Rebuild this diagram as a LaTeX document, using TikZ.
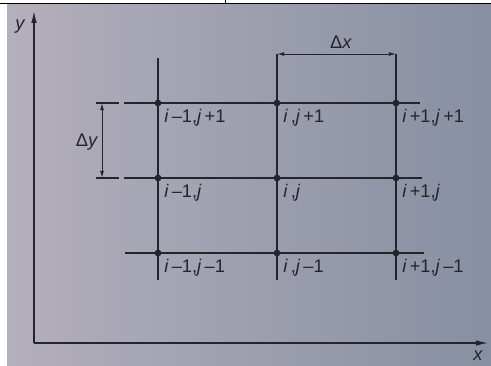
\documentclass[tikz,border=0pt]{standalone}
\usepackage{fontspec}
\setmainfont{Liberation Sans}
\usetikzlibrary{arrows.meta}

\definecolor{ink}{RGB}{36,36,44}
\definecolor{paperL}{RGB}{180,175,187}
\definecolor{paperR}{RGB}{135,143,162}

\newcommand\gridlab[2]{\textit{i}\,#1,\textit{j}\,#2}

\begin{document}
\begin{tikzpicture}[x=0.025cm,y=-0.025cm,
  gridline/.style={draw=ink,line width=0.9pt},
  dot/.style={circle,fill=ink,inner sep=0pt,minimum size=1.7mm},
  lab/.style={anchor=north west,inner sep=0pt,font=\fontsize{13}{15}\selectfont,text=ink},
  axis/.style={draw=ink,line width=0.9pt,-{Latex[length=3mm,width=1.4mm]}},
  dim/.style={draw=ink,line width=0.7pt,{Latex[length=1.8mm,width=1mm]}-{Latex[length=1.8mm,width=1mm]}}
]
\useasboundingbox (0,0) rectangle (491,366);
% paper and the table edge above it
\shade[left color=paperL,right color=paperR] (7,5) rectangle (491,366);
\draw[line width=1.2pt] (0,3.5) -- (491,3.5);
\draw[line width=0.6pt] (225,0) -- (225,3.5);

% axes
\coordinate (o) at (34,343);
\coordinate (ytip) at (34,11);
\coordinate (xtip) at (488,343);
\draw[axis] (o) -- (ytip);
\draw[axis] (o) -- (xtip);
\node[lab,anchor=center,font=\fontsize{13}{15}\itshape] (ylab) at (20,27) {y};
\node[lab,anchor=center,font=\fontsize{13}{15}\itshape] (xlab) at (478,356) {x};

% grid nodes
\foreach \cx/\di [count=\a] in {158/{--1},277/{},396/{+1}}
  \foreach \cy/\dj [count=\b] in {103/{+1},178/{},253/{--1}}{
    \coordinate (p\a\b) at (\cx,\cy);
    \node[lab] (l\a\b) at (\cx+6,\cy+6) {\gridlab{\di}{\dj}};
  }

% grid lines
\coordinate (tw) at (96,103);  \coordinate (tg) at (119,103); \coordinate (te) at (420,103);
\coordinate (mw) at (96,178);  \coordinate (mg) at (119,178); \coordinate (me) at (422,178);
\coordinate (bw) at (125,253); \coordinate (be) at (424,253);
\draw[gridline] (tw) -- (tg) (tg) ++(5,0) -- (te);
\draw[gridline] (mw) -- (mg) (mg) ++(5,0) -- (me);
\draw[gridline] (bw) -- (be);
\coordinate (c1t) at (158,58); \coordinate (c1b) at (158,280);
\coordinate (c2t) at (277,54); \coordinate (c2b) at (277,280);
\coordinate (c3t) at (396,54); \coordinate (c3b) at (396,280);
\draw[gridline] (c1t) -- (c1b);
\draw[gridline] (c2t) -- (c2b);
\draw[gridline] (c3t) -- (c3b);

% spacings
\draw[dim] (c2t) -- (c3t);
\node[lab,anchor=center] (dx) at (341,42) {Δ\textit{x}};
\coordinate (dyt) at (102,103); \coordinate (dyb) at (102,178);
\draw[dim] (dyt) -- (dyb);
\node[lab,anchor=center] (dy) at (87,142) {Δ\textit{y}};

\foreach \a in {1,2,3}
  \foreach \b in {1,2,3}
    \node[dot] (d\a\b) at (p\a\b) {};
\end{tikzpicture}
\end{document}
